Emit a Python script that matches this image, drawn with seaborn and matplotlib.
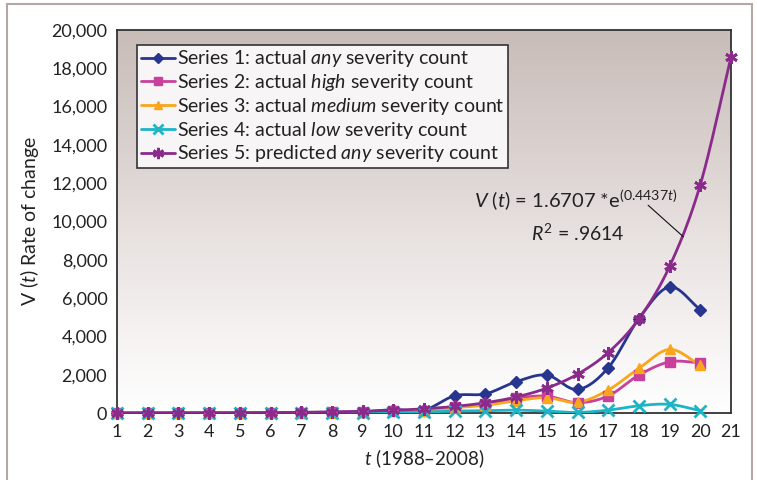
import numpy as np
import pandas as pd
import matplotlib
matplotlib.use("Agg")
import matplotlib.pyplot as plt
import seaborn as sns
from matplotlib.colors import LinearSegmentedColormap
from matplotlib.lines import Line2D
from matplotlib.patches import Rectangle

# values
t_actual = list(range(1, 21))
t_pred = list(range(1, 22))
any_count = [0, 0, 0, 0, 0, 10, 30, 40, 60, 180, 150, 900, 1000, 1630, 1980, 1230, 2360, 4930, 6580, 5400]
high_count = [0, 0, 0, 0, 0, 0, 20, 30, 40, 100, 120, 300, 450, 770, 880, 540, 890, 1980, 2670, 2620]
medium_count = [0, 0, 0, 0, 0, 0, 20, 25, 40, 80, 110, 280, 400, 640, 800, 560, 1200, 2330, 3320, 2500]
low_count = [0, 0, 0, 0, 0, 0, 10, 15, 20, 40, 50, 100, 120, 150, 100, 30, 150, 380, 450, 120]
pred_count = [3, 4, 6, 10, 15, 24, 37, 58, 91, 141, 220, 343, 536, 835, 1300,
              2026, 3156, 4916, 7657, 11924, 18580]

labels = [
    "Series 1: actual $\\it{any}$ severity count",
    "Series 2: actual $\\it{high}$ severity count",
    "Series 3: actual $\\it{medium}$ severity count",
    "Series 4: actual $\\it{low}$ severity count",
    "Series 5: predicted $\\it{any}$ severity count",
]

sns.set_style("white")
plt.rcParams["font.family"] = ["Lato", "DejaVu Sans"]
plt.rcParams["mathtext.fontset"] = "custom"
plt.rcParams["mathtext.rm"] = "Lato"
plt.rcParams["mathtext.it"] = "Lato:italic"


def smooth(x, y, n=20):
    # Catmull-Rom curve through the points, like Excel's smoothed line
    x = np.asarray(x, float)
    y = np.asarray(y, float)
    px = np.concatenate([[2 * x[0] - x[1]], x, [2 * x[-1] - x[-2]]])
    py = np.concatenate([[2 * y[0] - y[1]], y, [2 * y[-1] - y[-2]]])
    s = np.linspace(0, 1, n, endpoint=False)
    xs, ys = [], []
    for i in range(1, len(px) - 2):
        for p, out in ((px, xs), (py, ys)):
            p0, p1, p2, p3 = p[i - 1], p[i], p[i + 1], p[i + 2]
            out.extend(0.5 * (2 * p1 + (-p0 + p2) * s
                              + (2 * p0 - 5 * p1 + 4 * p2 - p3) * s ** 2
                              + (-p0 + 3 * p1 - 3 * p2 + p3) * s ** 3))
    xs.append(x[-1])
    ys.append(y[-1])
    return np.array(xs), np.array(ys)


series = [
    (t_actual, any_count, "#27358f", "D", 6, True),
    (t_actual, high_count, "#c9409c", "s", 6.5, True),
    (t_actual, medium_count, "#f9a61c", "^", 7, True),
    (t_actual, low_count, "#1db4c6", "x", 8, False),
    (t_pred, pred_count, "#8a2a8b", (6, 2, 0), 9, False),
]

fig = plt.figure(figsize=(7.57, 4.8), dpi=100)
ax = fig.add_axes([117 / 757, 1 - 413 / 480, 614 / 757, 383 / 480])

cmap = LinearSegmentedColormap.from_list(
    "bg", [(0, "#ffffff"), (0.35, "#eee9e8"), (1, "#c8bcb8")])
ax.imshow(np.linspace(0, 1, 256).reshape(-1, 1), cmap=cmap, origin="lower",
          extent=[1, 21, 0, 20000], aspect="auto", zorder=0)

handles = []
for x, y, c, m, ms, filled in series:
    xs, ys = smooth(x, y)
    ys = np.clip(ys, 0, None)
    df = pd.DataFrame({"t": xs, "v": ys})
    sns.lineplot(data=df, x="t", y="v", color=c, lw=2, ax=ax,
                 estimator=None, sort=False, zorder=3)
    ax.plot(x, y, ls="none", marker=m, ms=ms, color=c, mec=c,
            mew=2 if not filled else 1, zorder=4, clip_on=False)
    handles.append(Line2D([], [], color=c, lw=2, marker=m, ms=ms * 0.9,
                          mew=2 if not filled else 1))

ax.set_xlim(1, 21)
ax.set_ylim(0, 20000)
ax.set_xticks(range(1, 22))
ax.set_yticks(range(0, 20001, 2000))
ax.set_yticklabels([f"{v:,}" for v in range(0, 20001, 2000)])
ax.tick_params(axis="both", direction="out", length=5, width=1.2,
               color="#333333", labelsize=13, labelcolor="#222222", pad=2)
ax.tick_params(axis="x", length=6)
for sp in ax.spines.values():
    sp.set_color("#333333")
    sp.set_linewidth(1.3)

ax.set_xlabel("$t$ (1988\u20132008)", fontsize=13.5, color="#222222", labelpad=5)
ax.set_ylabel("V ($t$) Rate of change", fontsize=14, color="#222222", labelpad=7)

leg = ax.legend(handles, labels, loc="upper left", bbox_to_anchor=(0.032, 0.962),
                borderaxespad=0, fontsize=14, frameon=True, fancybox=False,
                edgecolor="#333333", facecolor="#f7f5f5", framealpha=1,
                handlelength=1.75, handletextpad=0.12, labelspacing=0.14,
                borderpad=0.2)
leg.get_frame().set_linewidth(1.2)
for txt in leg.get_texts():
    txt.set_color("#222222")

ax.text(15.95, 11150, "$V$ ($t$) = 1.6707 *e$^{(0.4437\\mathit{t})}$", fontsize=14.5,
        ha="center", va="center", color="#222222", zorder=5)
ax.text(16.0, 9400, "$R^2$ = .9614", fontsize=14, ha="center", va="center",
        color="#222222", zorder=5)
ax.plot([18.3, 19.45], [10850, 9200], color="#111111", lw=0.8, zorder=5)

fig.patches.append(Rectangle((7 / 757, -0.05), 745 / 757, 1.05 - 4.5 / 480,
                             transform=fig.transFigure, fill=False,
                             edgecolor="#b7a7a4", lw=1.5))

fig.savefig("out.png", dpi=100)
